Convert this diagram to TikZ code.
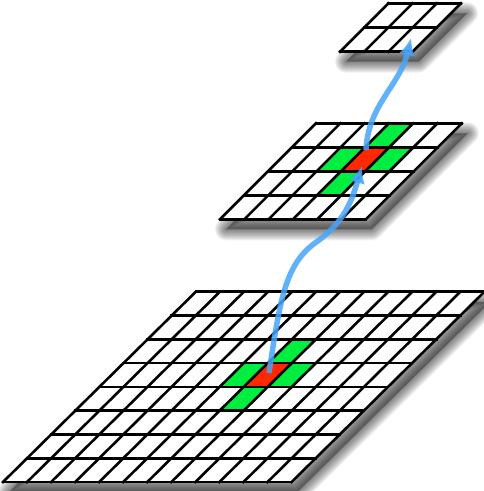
\documentclass[tikz,border=0pt]{standalone}
\usetikzlibrary{arrows.meta}
\definecolor{cellgreen}{RGB}{0,238,64}
\definecolor{cellred}{RGB}{255,40,0}
\definecolor{flowblue}{RGB}{70,165,250}
\tikzset{
  gridline/.style={line width=2.6pt, line cap=rect, line join=miter},
  shadelayer/.style={draw=black, opacity=0.055, line join=round},
  flow/.style={draw=flowblue, line width=5.5pt, opacity=0.85, -{Latex[length=17pt,width=16pt]}}
}
\newcommand\gridshadow[2]{%
  \begin{scope}[shift={(6pt,-10pt)}]
    \fill[black, opacity=0.35] (0,0) -- (#1,0) -- (#1,#2) -- (0,#2) -- cycle;
    \foreach \w in {2,4,...,22}
      \draw[shadelayer, line width=\w pt] (0,0) -- (#1,0) -- (#1,#2) -- (0,#2) -- cycle;
  \end{scope}
  \fill[white] (0,0) -- (#1,0) -- (#1,#2) -- (0,#2) -- cycle;}
\begin{document}
\begin{tikzpicture}[x=1pt,y=-1pt]
\useasboundingbox (0,0) rectangle (484,491);
% bottom grid 12 x 8
\begin{scope}[shift={(3,482)}, x={(24.05pt,0pt)}, y={(24.1pt,23.78pt)}]
  \gridshadow{12}{8}
  \fill[cellred] (6,4) -- (7,4) -- (7,5) -- (6,5) -- cycle;
  \fill[cellgreen] (5,4) -- (6,4) -- (6,5) -- (5,5) -- cycle;
  \fill[cellgreen] (7,4) -- (8,4) -- (8,5) -- (7,5) -- cycle;
  \fill[cellgreen] (6,5) -- (7,5) -- (7,6) -- (6,6) -- cycle;
  \fill[cellgreen] (6,3) -- (7,3) -- (7,4) -- (6,4) -- cycle;
  \foreach \i in {0,...,12} \draw[gridline] (\i,0) -- (\i,8);
  \foreach \j in {0,...,8} \draw[gridline] (0,\j) -- (12,\j);
\end{scope}
% middle grid 6 x 4
\begin{scope}[shift={(220,219.3)}, x={(24.3pt,0pt)}, y={(24pt,24pt)}]
  \gridshadow{6}{4}
  \fill[cellred] (3,2) -- (4,2) -- (4,3) -- (3,3) -- cycle;
  \fill[cellgreen] (2,2) -- (3,2) -- (3,3) -- (2,3) -- cycle;
  \fill[cellgreen] (4,2) -- (5,2) -- (5,3) -- (4,3) -- cycle;
  \fill[cellgreen] (3,3) -- (4,3) -- (4,4) -- (3,4) -- cycle;
  \fill[cellgreen] (3,1) -- (4,1) -- (4,2) -- (3,2) -- cycle;
  \foreach \i in {0,...,6} \draw[gridline] (\i,0) -- (\i,4);
  \foreach \j in {0,...,4} \draw[gridline] (0,\j) -- (6,\j);
\end{scope}
% top grid 3 x 2
\begin{scope}[shift={(340,51.7)}, x={(24.2pt,0pt)}, y={(24.2pt,24.2pt)}]
  \gridshadow{3}{2}
  \foreach \i in {0,...,3} \draw[gridline] (\i,0) -- (\i,2);
  \foreach \j in {0,...,2} \draw[gridline] (0,\j) -- (3,\j);
\end{scope}
% arrows
\coordinate (s1) at (269,373);
\coordinate (m1) at (315,243);
\coordinate (e1) at (362,166);
\coordinate (s2) at (366,150);
\coordinate (e2) at (411,38);
\draw[flow] (s1) .. controls (280,300) and (285,265) .. (m1)
  .. controls (345,222) and (352,200) .. (e1);
\draw[flow] (s2) .. controls (368,105) and (400,85) .. (e2);
\end{tikzpicture}
\end{document}
